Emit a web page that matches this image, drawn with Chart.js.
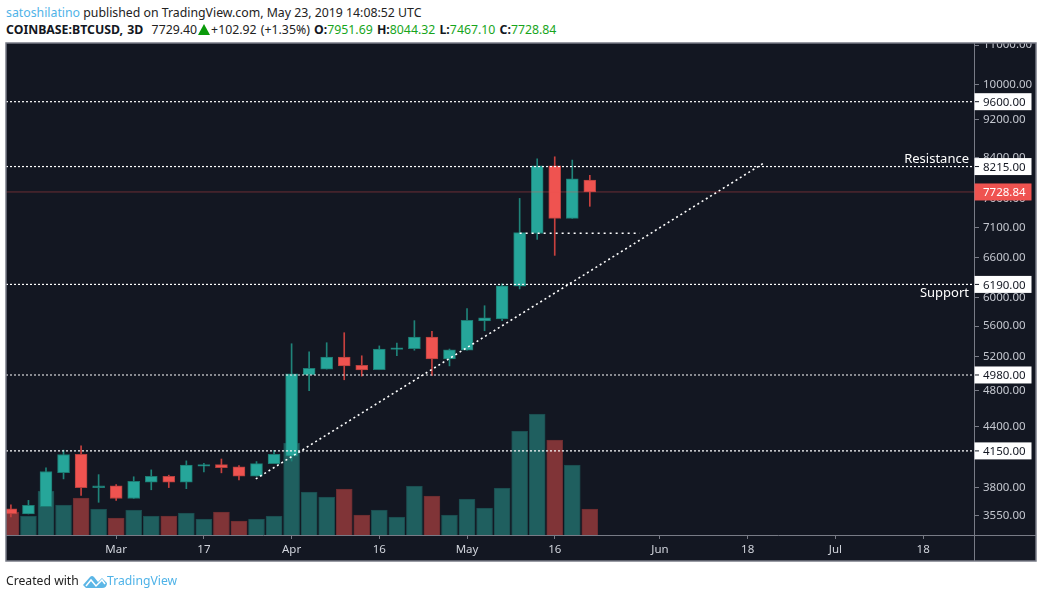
<!DOCTYPE html>
<html>
<head>
<meta charset="utf-8">
<title>COINBASE:BTCUSD, 3D</title>
<script src="https://cdn.jsdelivr.net/npm/chart.js@4/dist/chart.umd.min.js"></script>
<style>
  html, body { margin: 0; padding: 0; background: #fff; }
  body { width: 1043px; height: 599px; overflow: hidden; position: relative; font-family: "Noto Sans", sans-serif; }
  canvas { position: absolute; left: 0; top: 0; }
  #header { position: absolute; left: 0; top: 0; width: 1043px; height: 42px; background: #fff; font-size: 12.3px; color: #222; }
  #header div { position: absolute; left: 6px; white-space: nowrap; }
  #line1 { top: 4px; }
  #line2 { top: 21px; word-spacing: 1px; }
  .name, .brand { color: #4fb3e8; }
  .val { color: #17a51c; }
  b { color: #131722; }
  #tri { display: inline-block; width: 0; height: 0; border-left: 6px solid transparent; border-right: 6px solid transparent; border-bottom: 11px solid #0a9a0a; vertical-align: -1px; margin: 0 1px; }
  #footer { position: absolute; left: 6px; top: 572px; font-size: 12.2px; color: #222; white-space: nowrap; }
  #footer svg { vertical-align: -3px; margin: 0 0 0 1px; }
  .brand { font-size: 12.2px; }
</style>
</head>
<body>
<canvas id="chart" width="1043" height="599"></canvas>
<div id="header">
  <div id="line1"><span class="name">satoshilatino</span> published on TradingView.com, May 23, 2019 14:08:52 UTC</div>
  <div id="line2"><b>COINBASE:BTCUSD, 3D</b>&nbsp; 7729.40<span id="tri"></span>+102.92 (+1.35%) <b>O:</b><span class="val">7951.69</span> <b>H:</b><span class="val">8044.32</span> <b>L:</b><span class="val">7467.10</span> <b>C:</b><span class="val">7728.84</span></div>
</div>
<div id="footer">Created with <svg width="24" height="14" viewBox="0 0 24 14"><path d="M0 11 L7 3 Q9 1 11 3 L15 8 L19 4 L24 9 Q24 14 19 14 L3 14 Z" fill="#5cb6e6"/><path d="M3 12 L8 6 L13 12 L19 6 L22 10" fill="none" stroke="#fff" stroke-width="1.5"/></svg><span class="brand">TradingView</span></div>
<script>
// candles, one per 3 days, index 0 is the leftmost bar
const opens  = [3610, 3567, 3629, 3938, 4115, 3800, 3816, 3702, 3850, 3905, 3850, 4000, 4015, 3995, 3905, 4025, 4098,
                4985, 5051, 5198, 5096, 5043, 5295, 5305, 5455, 5175, 5285, 5670, 5696, 6165, 6995, 8229, 7253, 7951.69];
const closes = [3567, 3642, 3950, 4114, 3800, 3815, 3702, 3858, 3905, 3850, 4010, 4015, 3985, 3905, 4025, 4115, 4995,
                5060, 5198, 5088, 5040, 5300, 5315, 5455, 5175, 5290, 5680, 5714, 6170, 7009, 8229, 7253, 7975, 7728.84];
const highs  = [3645, 3685, 3985, 4158, 4200, 3920, 3828, 3900, 3965, 3915, 4052, 4028, 4070, 4005, 4045, 4155, 5368,
                5265, 5381, 5512, 5215, 5340, 5375, 5674, 5530, 5300, 5840, 5881, 6200, 7610, 8369, 8410, 8344, 8044.32];
const lows   = [3541, 3567, 3629, 3880, 3730, 3668, 3685, 3702, 3780, 3800, 3790, 3945, 3937, 3870, 3905, 4025, 4050,
                4795, 5051, 4923, 4967, 5043, 5215, 5285, 4975, 5090, 5285, 5538, 5674, 6124, 6897, 6637, 7253, 7467.10];
const volumes = [23, 19, 44, 30, 37, 26, 17, 25, 19, 19, 22, 16, 23, 14, 16, 19, 92,
                 43, 38, 46, 20, 25, 18, 49, 39, 20, 36, 27, 47, 104, 121, 95, 70, 26];

const priceTicks = [11000, 10000, 9200, 8400, 7600, 7100, 6600, 6000, 5600, 5200, 4800, 4400, 4100, 3800, 3550];
const timeTickBars = [6, 11, 16, 21, 26, 31, 37, 42, 47, 52];
const timeTickLabels = ['Mar', '17', 'Apr', '16', 'May', '16', 'Jun', '18', 'Jul', '18'];

const levelPrices = [9600, 8215, 6190, 4980, 4150];
const lastPrice = 7728.84;
const shortLevelBars = [29, 35.85];
const shortLevelPrice = 7000;
const trendBars = [13.96, 42.96];
const trendPrices = [3880, 8294];
const noteTexts = ['Resistance', 'Support'];
const notePrices = [8360, 6060];

const upColor = '#26a69a', downColor = '#ef5350';
const isUp = opens.map((o, i) => closes[i] >= o);
const bars = opens.map((o, i) => i);

function levelDataset(xs, ys, color, width, dash) {
  return {
    type: 'line',
    data: xs.map((x, i) => ({ x: x, y: ys[i] })),
    borderColor: color,
    borderWidth: width,
    borderDash: dash,
    pointRadius: 0,
    yAxisID: 'y',
    order: 1
  };
}

const frameAndTags = {
  id: 'frameAndTags',
  beforeDraw(chart) {
    const c = chart.ctx, a = chart.chartArea, xs = chart.scales.x, ys = chart.scales.y;
    c.save();
    c.fillStyle = '#131722';
    c.fillRect(a.left, a.top, ys.right - a.left, xs.bottom - a.top);
    c.restore();
  },
  afterDraw(chart) {
    const c = chart.ctx, a = chart.chartArea, xs = chart.scales.x, ys = chart.scales.y;
    c.save();
    // frame and axis separators
    c.strokeStyle = '#787b86';
    c.lineWidth = 1.5;
    c.strokeRect(a.left, a.top, ys.right - a.left, xs.bottom - a.top);
    c.lineWidth = 1;
    c.beginPath();
    c.moveTo(a.right + 0.5, a.top); c.lineTo(a.right + 0.5, xs.bottom);
    c.moveTo(a.left, a.bottom + 0.5); c.lineTo(ys.right, a.bottom + 0.5);
    c.stroke();

    // price tags on the axis
    c.font = '11.5px "Noto Sans"';
    c.textBaseline = 'middle';
    c.textAlign = 'left';
    levelPrices.forEach(p => {
      const y = ys.getPixelForValue(p);
      c.fillStyle = '#fff';
      c.fillRect(a.right + 0.5, y - 8.5, 57, 17);
      c.fillStyle = '#131722';
      c.fillRect(a.right + 1, y - 0.5, 4, 1);
      c.fillText(p.toFixed(2), a.right + 9, y + 1);
    });
    const ly = ys.getPixelForValue(lastPrice);
    c.fillStyle = downColor;
    c.fillRect(a.right + 0.5, ly - 8.5, 57, 17);
    c.fillStyle = '#fff';
    c.fillText(lastPrice.toFixed(2), a.right + 9, ly + 1);

    // text notes
    c.font = '13px "Noto Sans"';
    c.textAlign = 'right';
    c.fillStyle = '#fff';
    noteTexts.forEach((t, i) => c.fillText(t, a.right - 5, ys.getPixelForValue(notePrices[i])));
    c.restore();
  }
};

new Chart(document.getElementById('chart'), {
  data: {
    datasets: [
      {
        type: 'bar',
        data: bars.map(i => ({ x: i, y: volumes[i] })),
        backgroundColor: isUp.map(u => u ? '#1f5f5f' : '#803437'),
        borderColor: isUp.map(u => u ? '#1b4a4d' : '#6a2c30'),
        borderWidth: 1,
        barThickness: 16,
        grouped: false,
        yAxisID: 'vol',
        order: 5
      },
      {
        type: 'bar',
        data: bars.map(i => ({ x: i, y: [lows[i], highs[i]] })),
        backgroundColor: isUp.map(u => u ? '#1f8379' : '#c8403e'),
        barThickness: 1,
        grouped: false,
        yAxisID: 'y',
        order: 4
      },
      {
        type: 'bar',
        data: bars.map(i => ({ x: i, y: [opens[i], closes[i]] })),
        backgroundColor: isUp.map(u => u ? upColor : downColor),
        borderColor: isUp.map(u => u ? '#1d7a72' : '#b5403e'),
        borderWidth: 1,
        borderSkipped: false,
        barThickness: 12,
        grouped: false,
        yAxisID: 'y',
        order: 3
      },
      levelDataset([-0.28, 54.9], [lastPrice, lastPrice], 'rgba(239,83,80,0.4)', 1, []),
      ...levelPrices.map(p => levelDataset([-0.28, 54.9], [p, p], '#ffffff', 1.2, [2, 2])),
      levelDataset(shortLevelBars, [shortLevelPrice, shortLevelPrice], '#ffffff', 1.6, [2, 4]),
      levelDataset(trendBars, trendPrices, '#ffffff', 1.6, [2, 3])
    ]
  },
  options: {
    responsive: false,
    animation: false,
    devicePixelRatio: 1,
    layout: { padding: { left: 6, top: 43, right: 7, bottom: 38 } },
    plugins: { legend: { display: false }, tooltip: { enabled: false } },
    scales: {
      x: {
        type: 'linear',
        offset: false,
        min: -0.28,
        max: 54.9,
        grid: { drawOnChartArea: false, offset: false, color: '#787b86', tickLength: 4 },
        border: { display: false },
        afterBuildTicks(scale) { scale.ticks = timeTickBars.map(v => ({ value: v })); },
        afterFit(scale) { scale.height = 26; },
        ticks: {
          color: '#d1d4dc',
          font: { family: 'Noto Sans', size: 11.5 },
          padding: 4,
          autoSkip: false,
          maxRotation: 0,
          callback: (v, i) => timeTickLabels[i]
        }
      },
      y: {
        type: 'logarithmic',
        position: 'right',
        min: 3391,
        max: 11053,
        grid: { drawOnChartArea: false, color: '#787b86', tickLength: 5 },
        border: { display: false },
        afterBuildTicks(scale) { scale.ticks = priceTicks.map(v => ({ value: v })); },
        afterFit(scale) { scale.width = 62; },
        ticks: {
          color: '#c4c7cf',
          font: { family: 'Noto Sans', size: 11.5 },
          padding: 4,
          autoSkip: false,
          callback: v => Number(v).toFixed(2)
        }
      },
      vol: { type: 'linear', display: false, min: 0, max: 492 }
    }
  },
  plugins: [frameAndTags]
});
</script>
</body>
</html>
